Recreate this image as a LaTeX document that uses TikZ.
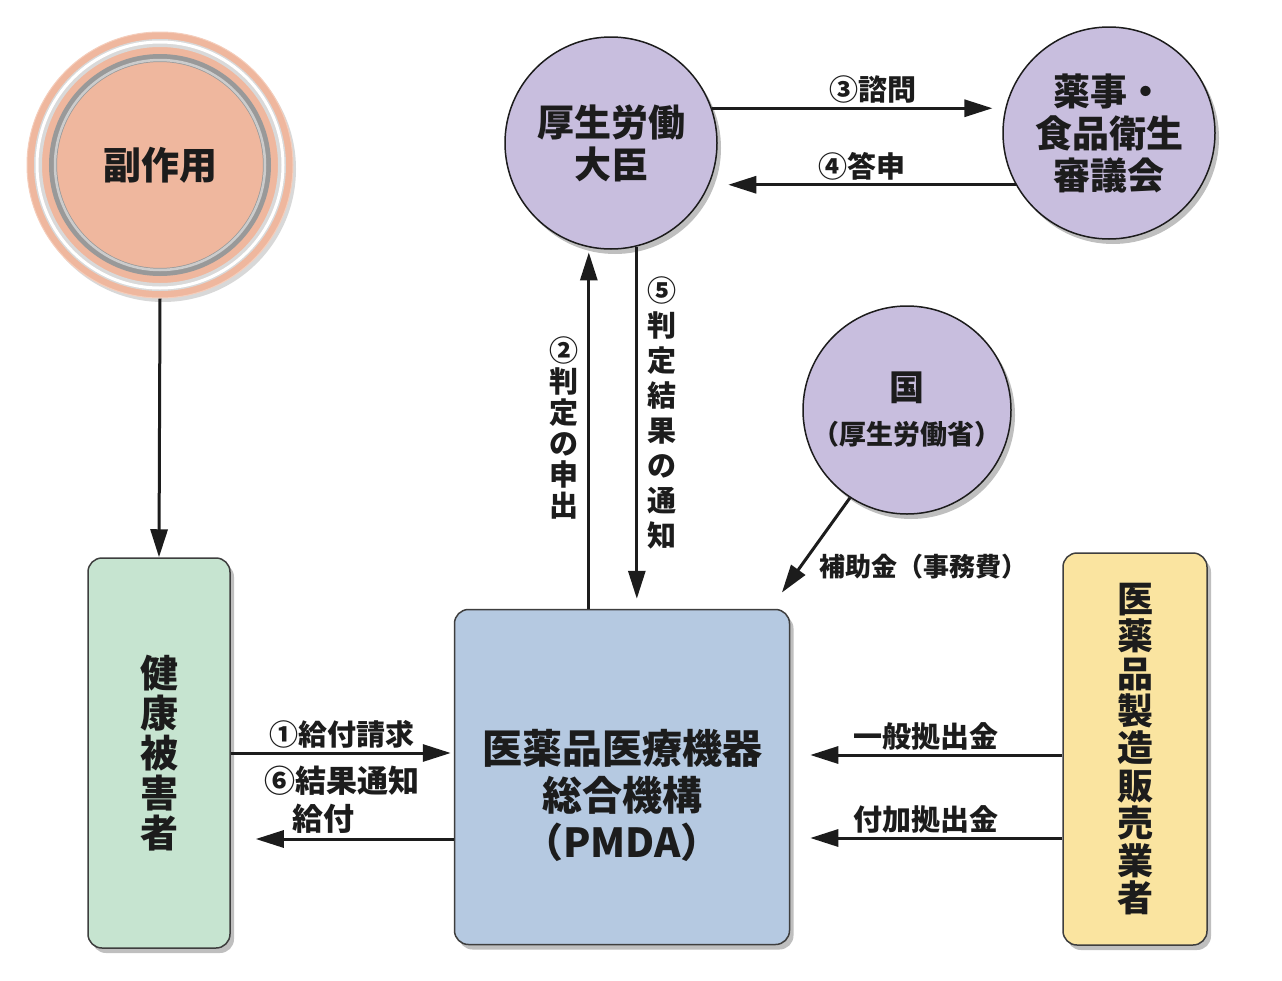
\documentclass[tikz,border=0pt]{standalone}
\usepackage{fontspec}
\setmainfont{Noto Sans CJK JP}
\usetikzlibrary{arrows.meta,positioning,shadows}
\definecolor{salmon}{RGB}{239,183,158}
\definecolor{lilac}{RGB}{200,190,222}
\definecolor{mint}{RGB}{198,228,208}
\definecolor{paleblue}{RGB}{181,201,225}
\definecolor{paleyellow}{RGB}{250,228,160}
\definecolor{ink}{RGB}{28,28,28}

\tikzset{
  bubble/.style={circle, draw=ink, line width=1.5pt, fill=lilac, inner sep=0pt,
    align=center, text=ink, font=\fontsize{37}{42}\selectfont\bfseries,
    drop shadow={opacity=0.5, shadow xshift=4pt, shadow yshift=-5pt}},
  panel/.style={rounded corners=14pt, draw=ink!85, line width=1.5pt, inner sep=0pt,
    align=center, text=ink,
    drop shadow={opacity=0.5, shadow xshift=4pt, shadow yshift=-5pt}},
  flow/.style={->, line width=3pt, draw=ink},
  lbl/.style={text=ink, inner sep=3pt, font=\fontsize{29}{33}\selectfont\bfseries},
}

\begin{document}
\begin{tikzpicture}[x=1pt, y=-1pt, >={Triangle[length=28pt,width=17pt]}]
    \fill[white] (0,0) rectangle (1282,980);
    \useasboundingbox (0,0) rectangle (1282,980);

    % Side effect circle with rings
    \node[circle, fill=salmon, draw=salmon!70!white, line width=1pt, minimum size=266pt,
          inner sep=0pt, text=ink, font=\fontsize{38}{42}\selectfont\bfseries,
          drop shadow={opacity=0.3, shadow xshift=3pt, shadow yshift=-4pt}] (side) at (160,165) {副作用};
    \draw[line width=8pt, gray!30] (side.center) circle[radius=122pt];
    \draw[line width=3pt, white] (side.center) circle[radius=123pt];
    \draw[line width=8pt, gray!80] (side.center) circle[radius=107pt];
    \draw[line width=2.5pt, gray!40] (side.center) circle[radius=105pt];

    % Ministry side
    \node[bubble, minimum size=212pt] (minister) at (611,143) {厚生労働\\大臣};
    \node[bubble, minimum size=212pt] (council) at (1109,133) {薬事・\\食品衛生\\審議会};
    \node[bubble, minimum size=208pt, font=\fontsize{27}{44}\selectfont\bfseries] (govt) at (907,410)
        {{\fontsize{35}{40}\selectfont 国}\\（厚生労働省）};

    % Boxes
    \node[panel, fill=mint, minimum width=142pt, minimum height=390pt,
          font=\fontsize{38}{40}\selectfont\bfseries] (victim) at (159,753) {健\\康\\被\\害\\者};
    \node[panel, fill=paleblue, minimum width=335pt, minimum height=335pt] (pmda) at (622,777) {};
    \node[text=ink, align=center, font=\fontsize{40}{47}\selectfont\bfseries] (pmdaname)
        at ([yshift=-18pt]pmda.center) {医薬品医療機器\\総合機構\\（PMDA）};
    \node[panel, fill=paleyellow, minimum width=144pt, minimum height=392pt,
          font=\fontsize{36}{37.4}\selectfont\bfseries] (maker) at (1135,749) {医\\薬\\品\\製\\造\\販\\売\\業\\者};

    % Side effect to victim
    \draw[flow] (side.south) -- (victim.north);

    % Consultation and report
    \draw[flow, shorten >=13pt] (minister.19) -- (minister.19 -| council.166)
        node[lbl, pos=0.55, above] {③諮問};
    \draw[flow, shorten >=19pt] (council.209) -- (council.209 -| minister.337)
        node[lbl, midway, above] {④答申};

    % Request and notice of decision
    \draw[flow, shorten >=5pt] (minister.258.6 |- pmda.north) -- (minister.258.6)
        node[lbl, midway, left=6pt, align=center, font=\fontsize{29}{31}\selectfont\bfseries] {②\\判\\定\\の\\申\\出};
    \draw[flow, shorten >=10pt] (minister.284.2) -- (minister.284.2 |- pmda.north)
        node[lbl, pos=0.46, right=6pt, align=center, font=\fontsize{29}{35}\selectfont\bfseries] {⑤\\判\\定\\結\\果\\の\\通\\知};

    % Subsidy
    \draw[flow, shorten >=20pt] (govt.237) -- ([xshift=-20pt]pmda.north east);
    \node[lbl, anchor=west, font=\fontsize{26}{30}\selectfont\bfseries] (subsidy) at (816,567) {補助金（事務費）};

    % Claim and payment
    \draw[flow, shorten >=3pt] (victim.east) -- (victim.east -| pmda.west)
        node[lbl, midway, above] {①給付請求};
    \draw[flow, shorten >=25pt] ([yshift=-62pt]pmda.west) -- ([yshift=-62pt]pmda.west -| victim.east)
        node[lbl, midway, above=1pt, align=left, font=\fontsize{31}{38}\selectfont\bfseries] {⑥結果通知\\\hspace*{0.9em}給付};

    % Contributions
    \draw[flow, shorten >=20pt] ([yshift=-6pt]maker.west) -- ([yshift=-6pt]maker.west -| pmda.east)
        node[lbl, midway, above] {一般拠出金};
    \draw[flow, shorten >=20pt] ([yshift=-89pt]maker.west) -- ([yshift=-89pt]maker.west -| pmda.east)
        node[lbl, midway, above] {付加拠出金};
\end{tikzpicture}
\end{document}
